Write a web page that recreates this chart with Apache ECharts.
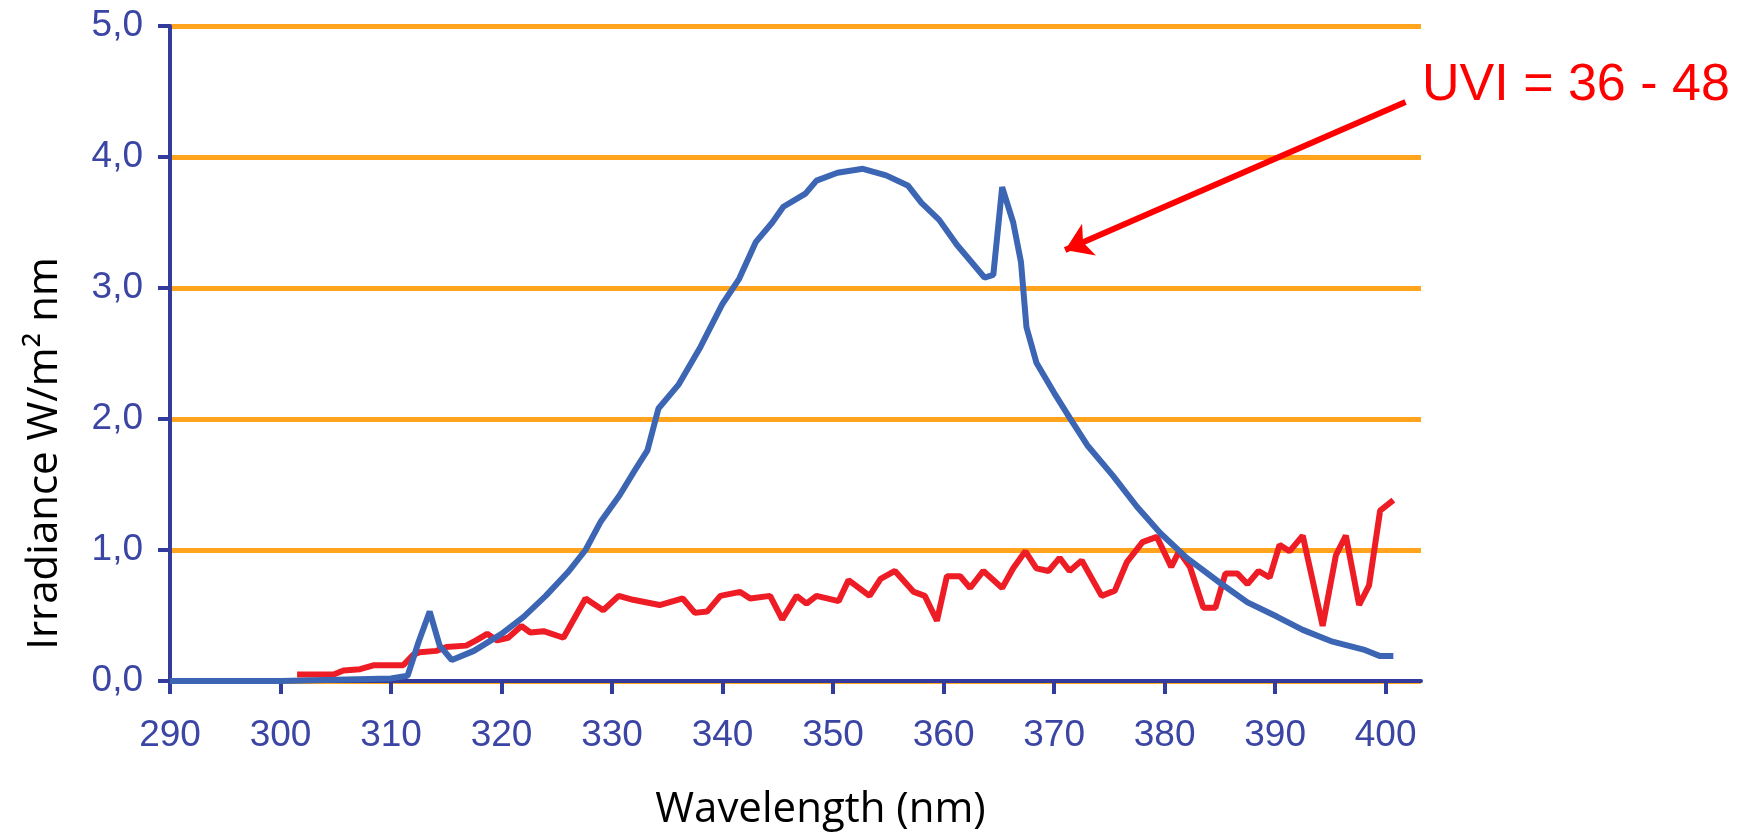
<!DOCTYPE html>
<html>
<head>
<meta charset="utf-8">
<title>UV irradiance spectrum</title>
<script src="https://cdn.jsdelivr.net/npm/echarts@6/dist/echarts.min.js"></script>
<style>
  html, body { margin: 0; padding: 0; background: #fff; }
  #chart { width: 1745px; height: 836px; }
</style>
</head>
<body>
<div id="chart"></div>
<script>
// axis ticks
const xTicks = [290, 300, 310, 320, 330, 340, 350, 360, 370, 380, 390, 400];
const yTicks = [0, 1, 2, 3, 4, 5];
const yTickLabels = ['0,0', '1,0', '2,0', '3,0', '4,0', '5,0'];

// blue curve (lamp spectrum)
const blueWavelength = [290, 300, 305, 310, 311.5, 312.5, 313.5, 314.4, 315.5, 317.5,
  320, 322, 324, 326, 327.6, 329, 330.7, 332, 333.2, 334.2,
  336, 338, 340, 341.5, 343, 344.5, 345.5, 347.5, 348.5, 350.4,
  352.7, 354.8, 356.8, 358, 359.6, 361.2, 362.5, 363.7, 364.5, 365.3,
  366.3, 367, 367.5, 368.4, 370, 371.4, 373, 375.3, 377.5, 379.6,
  382, 385, 387.5, 390.2, 392.5, 395.2, 398, 399.5, 400.7];
const blueIrradiance = [0, 0, 0.01, 0.02, 0.04, 0.30, 0.53, 0.27, 0.16, 0.23,
  0.36, 0.49, 0.65, 0.83, 1.00, 1.22, 1.42, 1.60, 1.76, 2.08,
  2.26, 2.55, 2.88, 3.07, 3.35, 3.50, 3.62, 3.72, 3.82, 3.88,
  3.91, 3.86, 3.78, 3.65, 3.52, 3.33, 3.20, 3.08, 3.10, 3.77,
  3.50, 3.20, 2.70, 2.43, 2.20, 2.01, 1.80, 1.57, 1.33, 1.13,
  0.94, 0.75, 0.60, 0.49, 0.39, 0.30, 0.24, 0.19, 0.19];

// red curve (sun spectrum)
const redWavelength = [301.5, 304.8, 305.7, 307.2, 308.4, 311.1, 312.0, 312.6, 314.1, 315.0,
  316.8, 317.7, 318.7, 319.6, 320.6, 321.8, 322.6, 323.8, 325.6, 327.6,
  329.2, 330.6, 331.9, 334.3, 336.4, 337.5, 338.6, 339.8, 341.6, 342.5,
  344.3, 345.4, 346.7, 347.6, 348.5, 350.5, 351.4, 353.3, 354.3, 355.6,
  357.3, 358.3, 359.4, 360.3, 361.5, 362.4, 363.6, 365.3, 366.3, 367.4,
  368.4, 369.5, 370.5, 371.4, 372.5, 374.3, 375.5, 376.6, 378.0, 379.3,
  380.6, 381.3, 382.3, 383.5, 384.6, 385.5, 386.6, 387.5, 388.5, 389.5,
  390.4, 391.3, 392.5, 394.3, 395.5, 396.4, 397.6, 398.5, 399.5, 400.7];
const redIrradiance = [0.05, 0.05, 0.08, 0.09, 0.12, 0.12, 0.20, 0.22, 0.23, 0.26,
  0.27, 0.31, 0.36, 0.31, 0.33, 0.42, 0.37, 0.38, 0.33, 0.63,
  0.54, 0.65, 0.62, 0.58, 0.63, 0.52, 0.53, 0.65, 0.68, 0.63,
  0.65, 0.47, 0.65, 0.59, 0.65, 0.61, 0.77, 0.65, 0.78, 0.84,
  0.68, 0.65, 0.46, 0.80, 0.80, 0.71, 0.84, 0.71, 0.86, 0.99,
  0.86, 0.84, 0.94, 0.84, 0.92, 0.65, 0.69, 0.91, 1.06, 1.10,
  0.87, 0.99, 0.87, 0.56, 0.56, 0.82, 0.82, 0.74, 0.84, 0.79,
  1.04, 0.99, 1.11, 0.42, 0.96, 1.11, 0.58, 0.73, 1.30, 1.38];

// annotation arrow (data coordinates) and its text
const arrowFrom = [401.8, 4.42];
const arrowTo = [371.0, 3.29];
const annotationText = 'UVI = 36 - 48';

const axisBlue = '#333c9c';
const labelBlue = '#3b45a3';

function pairs(xs, ys) {
  return xs.map((x, i) => [x, ys[i]]);
}

const myChart = echarts.init(document.getElementById('chart'));
const option = {
  animation: false,
  backgroundColor: '#fff',
  grid: { left: 170, right: 324, top: 26, bottom: 153, containLabel: false },
  xAxis: {
    type: 'value',
    min: 290,
    max: 403.2,
    interval: 10,
    name: 'Wavelength (nm)',
    nameLocation: 'middle',
    nameGap: 108,
    nameTextStyle: { color: '#000', fontSize: 42, fontFamily: 'Open Sans', padding: [0, 0, 0, 50] },
    axisLine: { show: true, lineStyle: { color: axisBlue, width: 4 } },
    axisTick: { show: true, length: 13, customValues: xTicks, lineStyle: { color: axisBlue, width: 4 } },
    axisLabel: {
      customValues: xTicks,
      color: labelBlue,
      fontSize: 37,
      fontFamily: 'Liberation Sans',
      margin: 36
    },
    splitLine: { show: false }
  },
  yAxis: {
    type: 'value',
    min: 0,
    max: 5,
    interval: 1,
    name: 'Irradiance W/m² nm',
    nameLocation: 'middle',
    nameRotate: 90,
    nameGap: 104,
    nameTextStyle: { color: '#000', fontSize: 42, fontFamily: 'Open Sans', padding: [0, 200, 0, 0] },
    axisLine: { show: true, lineStyle: { color: axisBlue, width: 4 } },
    axisTick: { show: true, length: 12, lineStyle: { color: axisBlue, width: 4 } },
    axisLabel: {
      color: labelBlue,
      fontSize: 37,
      fontFamily: 'Liberation Sans',
      margin: 27,
      formatter: (v) => yTickLabels[yTicks.indexOf(v)]
    },
    splitLine: { show: true, lineStyle: { color: '#ffa41c', width: 5 } }
  },
  series: [
    {
      name: 'sun',
      type: 'line',
      data: pairs(redWavelength, redIrradiance),
      showSymbol: false,
      lineStyle: { color: '#ee1c25', width: 6 },
      itemStyle: { color: '#ee1c25' },
      z: 3
    },
    {
      name: 'lamp',
      type: 'line',
      data: pairs(blueWavelength, blueIrradiance),
      showSymbol: false,
      lineStyle: { color: '#3c66b3', width: 6 },
      itemStyle: { color: '#3c66b3' },
      z: 4,
      markLine: {
        silent: true,
        symbol: ['none', 'arrow'],
        symbolSize: 26,
        label: { show: false },
        lineStyle: { color: '#ff0000', width: 6, type: 'solid' },
        emphasis: { disabled: true },
        data: [[{ coord: arrowFrom }, { coord: arrowTo }]]
      }
    }
  ],
  graphic: [
    {
      type: 'text',
      x: 1422,
      y: 86,
      style: {
        text: annotationText,
        fill: '#ff0000',
        fontSize: 52,
        fontFamily: 'Liberation Sans',
        align: 'left',
        verticalAlign: 'middle'
      }
    }
  ]
};
myChart.setOption(option);
</script>
</body>
</html>
